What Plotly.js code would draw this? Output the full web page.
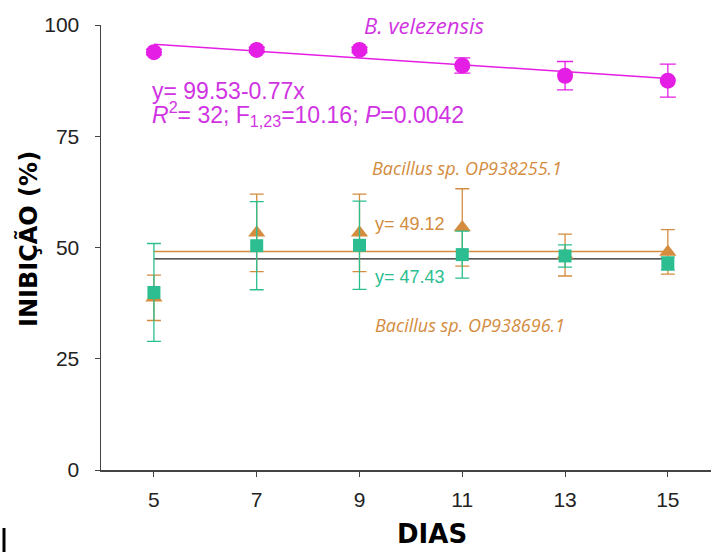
<!DOCTYPE html>
<html>
<head>
<meta charset="utf-8">
<script src="https://cdn.plot.ly/plotly-3.0.1.min.js"></script>
<style>html,body{margin:0;padding:0;background:#fff;}#chart{width:711px;height:552px;}</style>
</head>
<body>
<div id="chart"></div>
<script>
// ---- data ----
const days = [5, 7, 9, 11, 13, 15];
const velezensis = [93.9, 94.4, 94.4, 90.9, 88.6, 87.5];
const velezensisErr = [0.6, 0.6, 0.6, 1.7, 3.2, 3.7];
const op255 = [38.7, 53.3, 53.3, 54.5, 48.3, 49.0];
const op255Err = [5.1, 8.7, 8.7, 8.7, 4.7, 5.0];
const op696 = [39.9, 50.4, 50.5, 48.4, 48.1, 46.4];
const op696Err = [11.0, 9.9, 9.9, 5.3, 2.5, 1.5];
const fitDays = [5, 15];
const velezensisFit = [95.68, 87.98];
const op255Mean = [49.12, 49.12];
const op696Mean = [47.43, 47.43];
const xTicks = [5, 7, 9, 11, 13, 15];
const yTicks = [0, 25, 50, 75, 100];

const MAG = 'rgb(228,30,228)';
const MAGT = 'rgb(208,52,226)';
const ORA = 'rgb(212,140,62)';
const GRN = 'rgb(44,190,144)';
const SANS = 'Liberation Sans, Arial, sans-serif';
const HUM = 'Open Sans, sans-serif';
const HEAVY = 'DejaVu Sans, sans-serif';

const traces = [
  {x: fitDays, y: op255Mean, mode: 'lines', line: {color: ORA, width: 1.5}, hoverinfo: 'skip'},
  {x: fitDays, y: op696Mean, mode: 'lines', line: {color: '#222', width: 1.2}, hoverinfo: 'skip'},
  {x: fitDays, y: velezensisFit, mode: 'lines', line: {color: MAG, width: 1.5}, hoverinfo: 'skip'},
  {x: days, y: op255, mode: 'markers', marker: {symbol: 'triangle-up', size: 15, color: ORA},
   error_y: {type: 'data', array: op255Err, visible: true, color: ORA, thickness: 1.3, width: 7}},
  {x: days, y: op696, mode: 'markers', marker: {symbol: 'square', size: 13, color: GRN},
   error_y: {type: 'data', array: op696Err, visible: true, color: GRN, thickness: 1.3, width: 7}},
  {x: days, y: velezensis, mode: 'markers', marker: {symbol: 'circle', size: 16, color: MAG},
   error_y: {type: 'data', array: velezensisErr, visible: true, color: MAG, thickness: 1.3, width: 8}}
];

const ann = [
  {x: 10.25, y: 100, xref: 'x', yref: 'y', text: '<i>B. velezensis</i>', showarrow: false,
   font: {family: HUM, size: 22, color: MAGT}, xanchor: 'center', yanchor: 'middle'},
  {x: 4.92, y: 85.2, xref: 'x', yref: 'y', text: 'y= 99.53-0.77x', showarrow: false,
   font: {family: SANS, size: 23, color: MAGT}, xanchor: 'left', yanchor: 'middle'},
  {x: 4.92, y: 80.0, xref: 'x', yref: 'y', text: '<i>R</i><sup>2</sup>= 32; F<sub>1,23</sub>=10.16; <i>P</i>=0.0042', showarrow: false,
   font: {family: SANS, size: 23, color: MAGT}, xanchor: 'left', yanchor: 'middle'},
  {x: 11.1, y: 67.9, xref: 'x', yref: 'y', text: '<i>Bacillus sp. OP938255.1</i>', showarrow: false,
   font: {family: HUM, size: 18, color: ORA}, xanchor: 'center', yanchor: 'middle'},
  {x: 11.15, y: 32.6, xref: 'x', yref: 'y', text: '<i>Bacillus sp. OP938696.1</i>', showarrow: false,
   font: {family: HUM, size: 18, color: ORA}, xanchor: 'center', yanchor: 'middle'},
  {x: 9.26, y: 55.3, xref: 'x', yref: 'y', text: 'y= 49.12', showarrow: false,
   font: {family: SANS, size: 18, color: ORA}, xanchor: 'left', yanchor: 'middle'},
  {x: 9.26, y: 43.4, xref: 'x', yref: 'y', text: 'y= 47.43', showarrow: false,
   font: {family: SANS, size: 18, color: GRN}, xanchor: 'left', yanchor: 'middle'},
  {x: (28 - 101) / 610, y: (470 - 239) / 445, xref: 'paper', yref: 'paper', text: '<b>INIBIÇÃO (%)</b>', textangle: -90,
   showarrow: false, font: {family: HEAVY, size: 24, color: '#000'}, xanchor: 'center', yanchor: 'middle'},
  {x: (432 - 101) / 610, y: (470 - 534) / 445, xref: 'paper', yref: 'paper', text: '<b>DIAS</b>',
   showarrow: false, font: {family: HEAVY, size: 26, color: '#000'}, xanchor: 'center', yanchor: 'middle'}
];

const layout = {
  width: 711, height: 552,
  margin: {l: 101, r: 0, t: 25, b: 82, pad: 0},
  paper_bgcolor: '#fff', plot_bgcolor: '#fff',
  showlegend: false,
  xaxis: {range: [3.97, 15.84], tickvals: xTicks, ticktext: xTicks.map(String), showgrid: false, zeroline: false,
          showline: true, linecolor: '#444', linewidth: 1.5, ticks: 'outside', ticklen: 5, tickcolor: '#444',
          tickfont: {family: SANS, size: 21, color: '#222'}, ticklabelstandoff: 5},
  yaxis: {range: [0, 100], tickvals: yTicks, ticktext: yTicks.map(String), showgrid: false, zeroline: false,
          showline: true, linecolor: '#444', linewidth: 1.5, ticks: 'outside', ticklen: 5, tickcolor: '#444',
          tickfont: {family: SANS, size: 21, color: '#222'}, ticklabelstandoff: 11},
  annotations: ann,
  shapes: [
    {type: 'line', xref: 'paper', yref: 'paper', x0: -97 / 610, x1: -97 / 610,
     y0: (470 - 528) / 445, y1: (470 - 552) / 445, line: {color: '#000', width: 3}}
  ]
};

Plotly.newPlot('chart', traces, layout, {staticPlot: true, displayModeBar: false});
</script>
</body>
</html>
